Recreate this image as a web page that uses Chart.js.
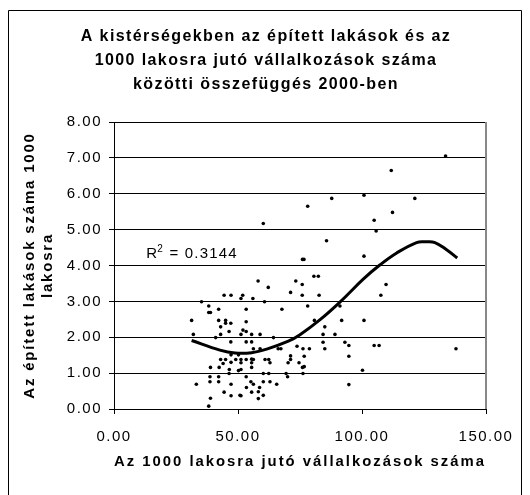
<!DOCTYPE html>
<html><head><meta charset="utf-8">
<script src="https://cdn.jsdelivr.net/npm/chart.js@4/dist/chart.umd.min.js"></script>
<style>html,body{margin:0;padding:0;background:#fff}canvas{display:block}</style>
</head><body>
<canvas id="c" width="530" height="495"></canvas>
<script>
// ---- data ----
const titleLines = ['A kistérségekben az épített lakások és az', '1000 lakosra jutó vállalkozások száma', 'közötti összefüggés 2000-ben'];
const xAxisTitle = 'Az 1000 lakosra jutó vállalkozások száma';
const yAxisTitle = ['Az épített lakások száma 1000', 'lakosra'];
const xTickValues = [0, 50, 100, 150];
const yTickValues = [0, 1, 2, 3, 4, 5, 6, 7, 8];
const r2Text = '0.3144';

const xVals = [133.7,111.8,78.1,87.8,100.8,121.3,112.3,104.9,60.2,105.7,85.7,76.0,76.6,100.8,80.6,82.4,
 58.1,62.2,73.3,75.9,109.7,71.2,75.9,82.7,107.6,44.4,47.2,51.9,51.2,56.0,35.3,60.7,
 38.2,78.1,91.1,42.2,53.3,67.7,38.2,38.9,
 31.3,42.2,45.0,80.8,91.8,100.8,53.3,45.0,47.1,43.0,85.0,52.0,
 46.4,53.3,51.2,55.5,58.9,32.0,43.0,84.3,89.1,41.0,64.3,
 47.1,53.3,55.5,84.3,93.1,94.7,104.9,106.9,
 73.8,76.2,78.8,85.0,56.2,58.9,66.2,67.3,137.9,
 47.2,50.2,71.2,76.7,94.7,
 43.0,45.0,49.1,51.2,53.3,55.5,56.2,60.9,62.4,71.2,
 44.0,47.2,51.2,55.5,62.9,70.2,74.6,
 38.9,42.4,76.0,76.7,46.5,50.2,51.2,55.5,100.2,
 46.4,60.2,62.4,69.4,76.2,38.7,42.2,53.3,70.0,
 38.7,42.2,55.2,60.2,62.9,33.2,47.2,56.2,65.6,94.7,
 53.4,58.7,44.4,55.5,58.2,47.2,51.2,60.2,50.8,38.9,58.2,38.2];
const yVals = [7.05,6.65,5.65,5.87,5.96,5.87,5.48,5.26,5.17,4.96,4.69,4.17,4.17,4.26,3.70,3.70,
 3.57,3.39,3.57,3.47,3.47,3.25,3.17,3.17,3.17,3.17,3.17,3.17,3.08,3.08,2.99,2.99,
 2.87,2.87,2.87,2.78,2.78,2.78,2.69,2.69,
 2.47,2.47,2.47,2.47,2.47,2.47,2.43,2.39,2.39,2.29,2.29,2.20,
 2.16,2.16,2.08,2.08,2.08,2.08,2.08,2.08,2.08,1.99,1.99,
 1.87,1.87,1.87,1.86,1.86,1.77,1.77,1.77,
 1.75,1.68,1.68,1.68,1.68,1.68,1.68,1.68,1.68,
 1.51,1.51,1.48,1.47,1.47,
 1.38,1.38,1.38,1.38,1.38,1.39,1.38,1.38,1.38,1.38,
 1.27,1.30,1.29,1.29,1.29,1.29,1.29,
 1.16,1.16,1.16,1.18,1.10,1.07,1.10,1.16,1.08,
 0.99,0.99,0.99,0.99,0.99,0.90,0.90,0.90,0.90,
 0.76,0.76,0.76,0.76,0.76,0.69,0.69,0.69,0.69,0.68,
 0.60,0.60,0.47,0.47,0.48,0.37,0.37,0.38,0.38,0.30,0.29,0.08];

const trendX = [31.3,42.7,48.8,55.5,61.6,70.3,75.0,83.1,91.1,100.5,107.3,114.0,122.0,125.7,129.4,134.1,138.4];
const trendY = [1.91,1.64,1.56,1.57,1.67,1.89,2.07,2.49,2.98,3.62,4.02,4.35,4.64,4.66,4.64,4.44,4.21];

// ---- build ----
const FONT = '"Liberation Sans", Arial, sans-serif';
const points = xVals.map((x, i) => ({x: x, y: yVals[i]}));
const trend = trendX.map((x, i) => ({x: x, y: trendY[i]}));

function spaceText(scale, tickSp, titleSp) {
  if (scale._spaced) return;
  scale._spaced = true;
  const dl = scale.drawLabels, dt = scale.drawTitle;
  scale.drawLabels = function (a) {
    const c = this.ctx; c.save(); c.letterSpacing = tickSp; dl.call(this, a); c.restore();
  };
  scale.drawTitle = function () {
    const c = this.ctx; c.save(); c.letterSpacing = titleSp; dt.call(this); c.restore();
  };
}

const decor = {
  id: 'decor',
  beforeDraw(chart) {
    const ctx = chart.ctx;
    ctx.save();
    ctx.fillStyle = '#fff';
    ctx.fillRect(0, 0, chart.width, chart.height);
    ctx.restore();
  },
  afterDraw(chart) {
    const ctx = chart.ctx;
    const a = chart.chartArea;
    const xs = chart.scales.x, ys = chart.scales.y;
    ctx.save();
    // outer frame
    ctx.strokeStyle = '#000';
    ctx.lineWidth = 1;
    ctx.beginPath();
    ctx.moveTo(8.5, chart.height);
    ctx.lineTo(8.5, 10.5);
    ctx.lineTo(521.5, 10.5);
    ctx.lineTo(521.5, chart.height);
    ctx.stroke();
    // plot right edge
    ctx.strokeStyle = '#888';
    ctx.lineWidth = 2;
    ctx.beginPath();
    ctx.moveTo(a.right, a.top);
    ctx.lineTo(a.right, a.bottom);
    ctx.stroke();
    // title
    ctx.fillStyle = '#000';
    ctx.font = 'bold 16px ' + FONT;
    ctx.textAlign = 'center';
    ctx.textBaseline = 'middle';
    ctx.letterSpacing = '1.4px';
    titleLines.forEach((t, i) => ctx.fillText(t, 266, 37 + i * 24));
    // R² label
    ctx.letterSpacing = '1.2px';
    const lx = xs.getPixelForValue(13);
    const ly = ys.getPixelForValue(4.32);
    ctx.textAlign = 'left';
    ctx.textBaseline = 'middle';
    ctx.font = '15px ' + FONT;
    ctx.fillText('R', lx, ly);
    const wR = ctx.measureText('R').width;
    ctx.font = '10px ' + FONT;
    ctx.fillText('2', lx + wR - 1, ly - 5);
    const w2 = ctx.measureText('2').width;
    ctx.font = '15px ' + FONT;
    ctx.fillText(' = ' + r2Text, lx + wR + w2 - 1, ly);
    ctx.restore();
  }
};

new Chart(document.getElementById('c'), {
  type: 'scatter',
  data: {
    datasets: [
      {
        label: 'pontok',
        data: points,
        pointRadius: 1.8,
        pointBackgroundColor: '#000',
        pointBorderColor: '#000',
        pointBorderWidth: 0,
        showLine: false,
        order: 2
      },
      {
        type: 'line',
        label: 'trend',
        data: trend,
        borderColor: '#000',
        borderWidth: 3,
        pointRadius: 0,
        tension: 0.4,
        fill: false,
        order: 1
      }
    ]
  },
  options: {
    responsive: false,
    animation: false,
    devicePixelRatio: 1,
    layout: {padding: {top: 122, left: 8, right: 44, bottom: 0}},
    plugins: {legend: {display: false}, tooltip: {enabled: false}, title: {display: false}},
    scales: {
      x: {
        type: 'linear', min: 0, max: 150,
        afterBuildTicks: s => { s.ticks = xTickValues.map(v => ({value: v})); },
        ticks: {color: '#000', font: {size: 15, family: FONT}, padding: 14, maxRotation: 0,
                callback: v => Number(v).toFixed(2)},
        grid: {drawOnChartArea: false, drawTicks: true, tickLength: 5, color: '#000'},
        border: {color: '#000', width: 1},
        title: {display: true, text: xAxisTitle, color: '#000',
                font: {size: 15, weight: 'bold', family: FONT}, padding: {top: 0, bottom: 24}},
        afterFit: s => { s.height = 86; spaceText(s, '1.5px', '2px'); }
      },
      y: {
        type: 'linear', min: 0, max: 8,
        afterBuildTicks: s => { s.ticks = yTickValues.map(v => ({value: v})); },
        ticks: {color: '#000', font: {size: 15, family: FONT}, padding: 7,
                callback: v => Number(v).toFixed(2)},
        grid: {color: '#000', lineWidth: 1, tickLength: 5, drawTicks: true},
        border: {color: '#000', width: 1},
        title: {display: true, text: yAxisTitle, color: '#000',
                font: {size: 15, weight: 'bold', family: FONT}, padding: {top: 13, bottom: 0}},
        afterFit: s => { s.width = 106; spaceText(s, '1.5px', '1.8px'); }
      }
    }
  },
  plugins: [decor]
});
</script>
</body></html>
